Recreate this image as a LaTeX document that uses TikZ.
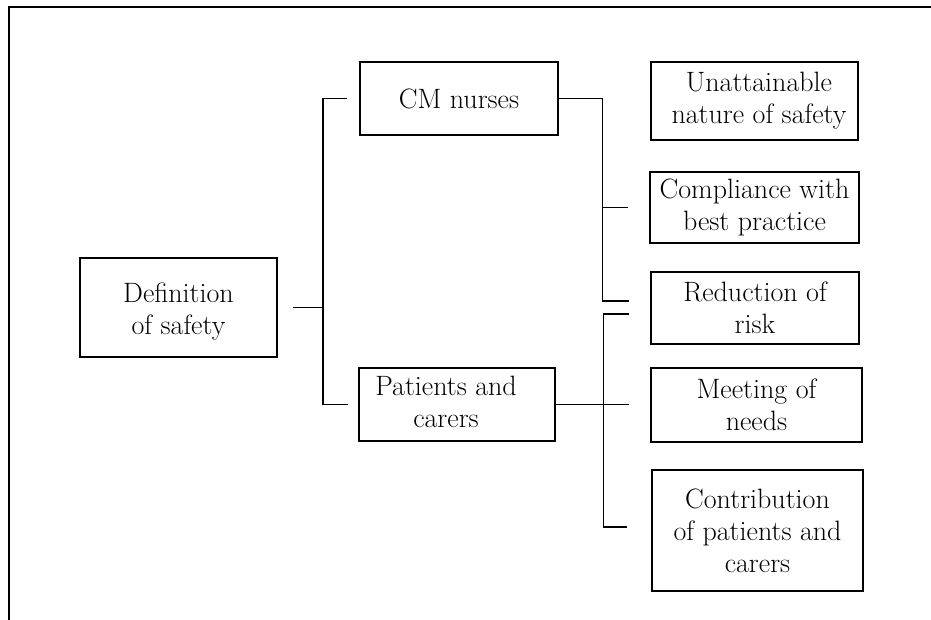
\documentclass[tikz,border=0pt]{standalone}
\usepackage{fontspec}
\usetikzlibrary{calc}
\begin{document}
\begin{tikzpicture}[x=1pt,y=-1pt,
  box/.style={draw, line width=1.5pt, align=center, inner sep=0pt,
              font=\fontsize{28}{32}\selectfont},
  link/.style={line width=1.5pt},
  frame/.style={line width=2pt}]
\useasboundingbox (0,0) rectangle (931,620);
% outer frame
\draw[frame] (931,7) -- (9,7) -- (9,620);

% root and the two groups
\node[box, minimum width=197pt, minimum height=99pt] (def) at (178.5,307.5)
  {\rule{0pt}{27pt}Definition\\of safety};
\node[box, minimum width=198pt, minimum height=73pt] (cm) at (459,98.5) {CM nurses};
\node[box, minimum width=196pt, minimum height=73pt] (pat) at (457,404.5)
  {Patients and\hspace*{22pt}\\carers\hspace*{22pt}\rule[-6pt]{0pt}{6pt}};

% themes
\node[box, minimum width=207pt, minimum height=78pt] (un) at (754.5,101)
  {\hspace*{9pt}Unattainable\\\hspace*{9pt}nature of safety};
\node[box, minimum width=209pt, minimum height=71pt] (comp) at (754.5,207.5) {Compliance with\\best practice};
\node[box, minimum width=208pt, minimum height=72pt] (red) at (755,308) {Reduction of\\risk};
\node[box, minimum width=211pt, minimum height=74pt] (meet) at (756.5,405) {Meeting of\\needs};
\node[box, minimum width=211pt, minimum height=121pt] (contr) at (757.5,530.5) {Contribution\\of patients and\\carers};

% root to groups
\coordinate (dj) at ($(def.east)+(45,0)$);
\draw[link] ([xshift=15pt]def.east) -- (dj);
\draw[link] ([xshift=-12pt]cm.west) -| (dj) |- ([xshift=-10pt]pat.west);

% CM nurses to themes
\coordinate (cr) at ([shift={(-21pt,7pt)}]red.west);
\coordinate (cv) at ($(cr)+(-27,0)$);
\draw[link] (cm.east) -| (cv) -- (cr);
\draw[link] ([xshift=-21pt]comp.west) -- (cv |- comp.west);

% patients and carers to themes
\coordinate (pr) at ([shift={(-21pt,-6pt)}]red.west);
\coordinate (pv) at ($(pr)+(-26,0)$);
\coordinate (pc) at ([shift={(-24pt,3.5pt)}]contr.west);
\draw[link] (pat.east) -- ($(pat.east -| meet.west)+(-21,0)$);
\draw[link] (pr) -- (pv) |- (pc);
\end{tikzpicture}
\end{document}
